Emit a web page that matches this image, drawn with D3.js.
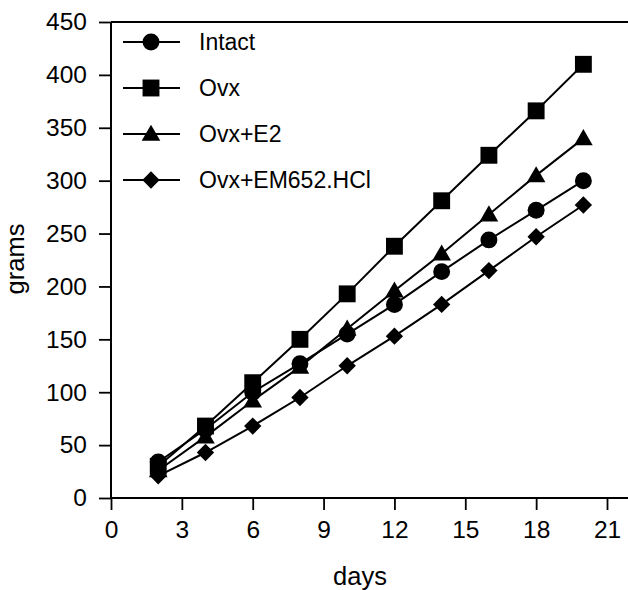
<!DOCTYPE html>
<html>
<head>
<meta charset="utf-8">
<script src="https://cdn.jsdelivr.net/npm/d3@7"></script>
<style>
  html, body { margin: 0; padding: 0; background: #fff; }
  svg text { font-family: "Liberation Sans", Arial, Helvetica, sans-serif; fill: #000; }
</style>
</head>
<body>
<svg id="chart" width="628" height="590"></svg>
<script>
const days = [2, 4, 6, 8, 10, 12, 14, 16, 18, 20];
const intact = [34, 65, 100, 127, 155, 183, 214, 244, 272, 300];
const ovx = [30, 68, 109, 150, 193, 238, 281, 324, 366, 410];
const ovxE2 = [26, 58, 92, 124, 160, 196, 231, 268, 305, 340];
const ovxEM = [21, 43, 68, 95, 125, 153, 183, 215, 247, 277];
const seriesNames = ["Intact", "Ovx", "Ovx+E2", "Ovx+EM652.HCl"];
const seriesSymbols = ["circle", "square", "triangle", "diamond"];
const xTicks = [0, 3, 6, 9, 12, 15, 18, 21];
const yTicks = [0, 50, 100, 150, 200, 250, 300, 350, 400, 450];

const seriesValues = [intact, ovx, ovxE2, ovxEM];

(function () {
const svg = d3.select("#chart");
const mLeft = 111, mRight = 628, mTop = 22, mBottom = 498;
const FONT = '"Liberation Sans", Arial, sans-serif';

const x = d3.scaleLinear().domain([0, 21]).range([mLeft, 607]);
const y = d3.scaleLinear().domain([0, 450]).range([mBottom, mTop]);

// Frame top line
svg.append("line").attr("x1", mLeft).attr("x2", mRight).attr("y1", mTop).attr("y2", mTop)
  .attr("stroke", "#000").attr("stroke-width", 2);
// x axis line extended to right edge
svg.append("line").attr("x1", mLeft - 1).attr("x2", mRight).attr("y1", mBottom).attr("y2", mBottom)
  .attr("stroke", "#000").attr("stroke-width", 2.2);

const xAxis = svg.append("g").attr("transform", `translate(0,${mBottom})`)
  .call(d3.axisBottom(x).tickValues(xTicks).tickSize(12).tickPadding(11).tickFormat(d3.format("d")));
xAxis.select(".domain").remove();
xAxis.selectAll(".tick line").attr("stroke", "#000").attr("stroke-width", 1.8);
xAxis.selectAll(".tick text").attr("font-size", 24.5).attr("fill", "#000").style("font-family", FONT);

const yAxis = svg.append("g").attr("transform", `translate(${mLeft},0)`)
  .call(d3.axisLeft(y).tickValues(yTicks).tickSize(12).tickPadding(12).tickFormat(d3.format("d")));
yAxis.select(".domain").attr("stroke", "#000").attr("stroke-width", 2).attr("d", `M0,${mTop}V${mBottom}`);
yAxis.selectAll(".tick line").attr("stroke", "#000").attr("stroke-width", 1.8);
yAxis.selectAll(".tick text").attr("font-size", 24.5).attr("fill", "#000").style("font-family", FONT);

// Axis titles
svg.append("text").attr("x", 360).attr("y", 585).attr("text-anchor", "middle")
  .attr("font-size", 25.5).text("days");
svg.append("text").attr("transform", "translate(23.5,259) rotate(-90)").attr("text-anchor", "middle")
  .attr("font-size", 25.5).text("grams");

const symType = {
  circle: d3.symbolCircle,
  square: d3.symbolSquare,
  triangle: d3.symbolTriangle,
  diamond: d3.symbolSquare
};
const symSize = { circle: 225, square: 285, triangle: 150, diamond: 150 };
const symRot = { circle: 0, square: 0, triangle: 0, diamond: 45 };
const symDy = { circle: 0, square: 0, triangle: 1.5, diamond: 0 };
function symPath(name) {
  return d3.symbol().type(symType[name]).size(symSize[name])();
}

const line = d3.line().x((d, i) => x(days[i])).y(d => y(d));

seriesValues.forEach((vals) => {
  svg.append("path").attr("d", line(vals)).attr("fill", "none")
    .attr("stroke", "#000").attr("stroke-width", 2);
});
seriesValues.forEach((vals, si) => {
  const name = seriesSymbols[si];
  svg.append("g").selectAll("path").data(vals).join("path")
    .attr("d", symPath(name))
    .attr("transform", (d, i) => `translate(${x(days[i])},${y(d) + symDy[name]}) rotate(${symRot[name]})`)
    .attr("fill", "#000");
});

// Legend
const legendY = [42, 88, 134, 180];
seriesNames.forEach((n, i) => {
  const name = seriesSymbols[i];
  const g = svg.append("g").attr("transform", `translate(0,${legendY[i]})`);
  g.append("line").attr("x1", 123).attr("x2", 180).attr("y1", 0).attr("y2", 0)
    .attr("stroke", "#000").attr("stroke-width", 2);
  g.append("path").attr("d", symPath(name))
    .attr("transform", `translate(151,${symDy[name]}) rotate(${symRot[name]})`).attr("fill", "#000");
  g.append("text").attr("x", 199).attr("y", 8).attr("font-size", 23).text(n);
});
})();
</script>
</body>
</html>
